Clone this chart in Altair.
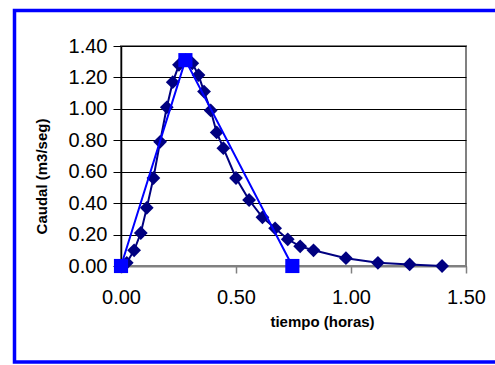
import altair as alt
import pandas as pd

# SCS-type hydrograph (diamonds)
t_scs = [0.0, 0.025, 0.057, 0.086, 0.112, 0.141, 0.170, 0.199, 0.225, 0.252, 0.281,
         0.310, 0.337, 0.361, 0.390, 0.416, 0.445, 0.50, 0.557, 0.615, 0.670, 0.725,
         0.779, 0.837, 0.978, 1.117, 1.255, 1.396]
q_scs = [0.0, 0.02, 0.10, 0.21, 0.37, 0.56, 0.79, 1.01, 1.17, 1.28, 1.31,
         1.29, 1.215, 1.11, 0.99, 0.85, 0.75, 0.56, 0.42, 0.31, 0.24, 0.17,
         0.125, 0.10, 0.05, 0.02, 0.01, 0.00]

# Triangular hydrograph (squares)
t_tri = [0.0, 0.28, 0.745]
q_tri = [0.0, 1.31, 0.0]

x_ticks = [0.0, 0.5, 1.0, 1.5]
y_ticks = [0.0, 0.2, 0.4, 0.6, 0.8, 1.0, 1.2, 1.4]

df_scs = pd.DataFrame({"t": t_scs, "q": q_scs})
df_tri = pd.DataFrame({"t": t_tri, "q": q_tri})

FONT = "Liberation Sans"

x_axis = alt.Axis(values=x_ticks, format=".2f", title="tiempo (horas)",
                  grid=False, domainColor="#808080", domainWidth=2,
                  tickColor="#808080", tickWidth=1.5, tickSize=7,
                  labelFontSize=20, labelFont=FONT, labelColor="black",
                  labelPadding=14, labelFlush=False, labelOverlap=False,
                  titleFont=FONT, titleFontSize=15, titleFontWeight="bold",
                  titleColor="black", titleX=201, titleY=60,
                  titleAlign="center", titleBaseline="alphabetic")
y_axis = alt.Axis(values=y_ticks, format=".2f", title="Caudal (m3/seg)",
                  grid=True, gridColor="black", gridWidth=1, gridOpacity=1,
                  domainColor="black", domainWidth=1.5,
                  tickColor="black", tickWidth=1, tickSize=8,
                  labelFontSize=20, labelFont=FONT, labelColor="black",
                  labelPadding=6, labelFlush=False, labelOverlap=False,
                  titleFont=FONT, titleFontSize=15, titleFontWeight="bold",
                  titleColor="black", titleX=-75, titleY=130, titleAngle=270,
                  titleAlign="center", titleBaseline="alphabetic")


def xe():
    return alt.X("t:Q", scale=alt.Scale(domain=[0, 1.5], nice=False), axis=x_axis)


def ye():
    return alt.Y("q:Q", scale=alt.Scale(domain=[0, 1.4], nice=False), axis=y_axis)


frame = alt.Chart(pd.DataFrame({"a": [0]})).mark_rect(
    filled=False, stroke="#0000FF", strokeWidth=3.5
).encode(
    x=alt.value(14.5 - 121), x2=alt.value(495 - 121 + 10),
    y=alt.value(10.5 - 46), y2=alt.value(362 - 46)
)

scs_line = alt.Chart(df_scs).mark_line(color="#000080", strokeWidth=2).encode(x=xe(), y=ye())
scs_pts = alt.Chart(df_scs).mark_point(shape="diamond", filled=True, color="#000080",
                                       size=190, opacity=1).encode(x=xe(), y=ye())
tri_line = alt.Chart(df_tri).mark_line(color="#0000FF", strokeWidth=2).encode(x=xe(), y=ye())
tri_pts = alt.Chart(df_tri).mark_point(shape="square", filled=True, color="#0000FF",
                                       size=200, opacity=1).encode(x=xe(), y=ye())

chart = alt.layer(scs_line, scs_pts, tri_line, tri_pts, frame).properties(
    width=345, height=220,
    padding={"left": 121, "top": 46, "right": 29, "bottom": 99},
    autosize=alt.AutoSizeParams(type="none"),
    background="white",
).configure_view(stroke="#808080", strokeWidth=2)

chart.save("out.html", embed_options={"renderer": "svg", "actions": False})
